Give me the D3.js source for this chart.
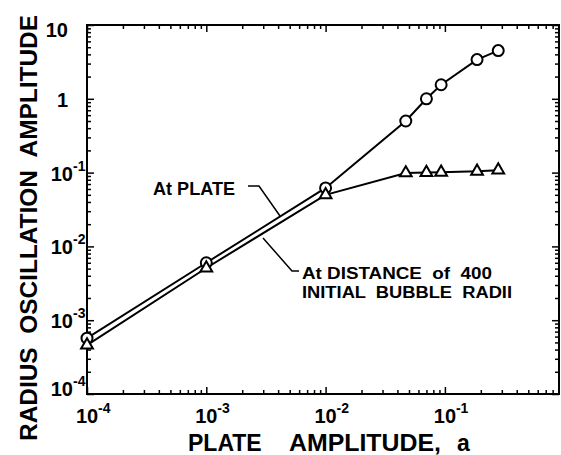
<!DOCTYPE html>
<html><head><meta charset="utf-8">
<script src="https://cdn.jsdelivr.net/npm/d3@7/dist/d3.min.js"></script>
<style>body{margin:0;background:#fff}svg{display:block}text{font-family:"Liberation Sans",Arial,sans-serif;font-weight:bold;fill:#000;white-space:pre}</style>
</head><body>
<script>
// Data
const plateAmp = [1e-4, 1e-3, 1e-2, 0.047, 0.07, 0.093, 0.186, 0.28];
const atPlate = [5.7e-4, 6.0e-3, 0.062, 0.50, 1.0, 1.55, 3.4, 4.5];
const atDistance = [4.6e-4, 5.1e-3, 0.050, 0.099, 0.100, 0.101, 0.104, 0.108];
const xTickExp = ["-4", "-3", "-2", "-1"];
const yTickLabels = [{v:10,t:"10"},{v:1,t:"1"},{v:0.1,e:"-1"},{v:0.01,e:"-2"},{v:0.001,e:"-3"},{v:1e-4,e:"-4"}];

const W = 561, H = 455;
const L = 87, R = 559, T = 25, B = 394;
const svg = d3.select("body").append("svg").attr("width", W).attr("height", H);

const x = d3.scaleLog().domain([1e-4, Math.pow(10, (R - L) / 119.3 - 4)]).range([L, R]);
const y = d3.scaleLog().domain([1e-4, 10]).range([B, T]);

function logTicks(lo, hi) {
  const out = [];
  for (let e = -5; e <= 1; e++) for (let m = 1; m <= 9; m++) {
    const v = m * Math.pow(10, e);
    if (v >= lo * 0.9999 && v <= hi * 1.0001) out.push({v, major: m === 1});
  }
  return out;
}
const xt = logTicks(x.domain()[0], x.domain()[1]);
const yt = logTicks(1e-4, 10);

svg.append("rect").attr("x", L).attr("y", T).attr("width", R - L).attr("height", B - T)
  .attr("fill", "none").attr("stroke", "#000").attr("stroke-width", 2);

function addAxis(axisGen, ticks, transform, major, minor) {
  [true, false].forEach(isMajor => {
    const vals = ticks.filter(d => d.major === isMajor).map(d => d.v);
    svg.append("g").attr("transform", transform)
      .call(axisGen.tickValues(vals).tickSize(isMajor ? major : minor).tickFormat(""))
      .call(s => { s.select(".domain").remove(); s.selectAll("line").attr("stroke", "#000").attr("stroke-width", 1.5); });
  });
}
addAxis(d3.axisBottom(x), xt, `translate(0,${B})`, -7, -4);
addAxis(d3.axisTop(x), xt, `translate(0,${T})`, -7, -4);
addAxis(d3.axisLeft(y), yt, `translate(${L},0)`, -7, -4);
addAxis(d3.axisRight(y), yt, `translate(${R},0)`, -7, -4);

// X tick labels: "10" centred on tick, exponent to the right
xTickExp.forEach(e => {
  const px = x(Math.pow(10, +e));
  svg.append("text").attr("x", px).attr("y", B + 29).attr("text-anchor", "middle")
    .attr("font-size", 20).text("10");
  svg.append("text").attr("x", px + 11).attr("y", B + 19).attr("font-size", 14).text(e);
});

// Y tick labels
yTickLabels.forEach(d => {
  const off = d.v === 10 ? 12 : (d.v === 1e-4 ? 2 : 8);
  const py = y(d.v) + off;
  if (d.t) {
    svg.append("text").attr("x", 68).attr("y", py).attr("text-anchor", "end")
      .attr("font-size", 20).text(d.t);
  } else {
    svg.append("text").attr("x", 73).attr("y", py).attr("text-anchor", "end")
      .attr("font-size", 20).text("10");
    svg.append("text").attr("x", 73).attr("y", py - 10).attr("font-size", 14).text(d.e);
  }
});

// Axis titles
const xt1 = svg.append("text").attr("y", 451).attr("font-size", 23);
xt1.append("tspan").attr("x", 188).text("PLATE");
xt1.append("tspan").attr("x", 289).attr("textLength", 152).attr("lengthAdjust", "spacingAndGlyphs").text("AMPLITUDE,");
xt1.append("tspan").attr("x", 457).text("a");
svg.append("text").attr("transform", "translate(37,441) rotate(-90)")
  .attr("font-size", 24).attr("textLength", 426).attr("lengthAdjust", "spacingAndGlyphs")
  .text("RADIUS  OSCILLATION  AMPLITUDE");

// Lines
const line = d3.line().x(d => x(d[0])).y(d => y(d[1]));
const p1 = plateAmp.map((v, i) => [v, atPlate[i]]);
const p2 = plateAmp.map((v, i) => [v, atDistance[i]]);
svg.append("path").attr("d", line(p1)).attr("fill", "none").attr("stroke", "#000").attr("stroke-width", 2);
svg.append("path").attr("d", line(p2)).attr("fill", "none").attr("stroke", "#000").attr("stroke-width", 2);

// Markers
svg.selectAll(".c").data(p1).join("circle")
  .attr("cx", d => x(d[0])).attr("cy", d => y(d[1])).attr("r", 5.5)
  .attr("fill", "#fff").attr("stroke", "#000").attr("stroke-width", 2);
const tri = d3.symbol().type(d3.symbolTriangle).size(60);
svg.selectAll(".t").data(p2).join("path")
  .attr("transform", d => `translate(${x(d[0])},${y(d[1])})`).attr("d", tri)
  .attr("fill", "#fff").attr("stroke", "#000").attr("stroke-width", 2);

// Annotations
svg.append("text").attr("x", 153).attr("y", 195).attr("font-size", 17.5)
  .attr("textLength", 82).attr("lengthAdjust", "spacingAndGlyphs").text("At PLATE");
svg.append("path").attr("d", "M248,186 L259,186 L280,216").attr("fill", "none").attr("stroke", "#000").attr("stroke-width", 1.5);
svg.append("text").attr("x", 302).attr("y", 279).attr("font-size", 16)
  .attr("textLength", 190).attr("lengthAdjust", "spacingAndGlyphs").text("At DISTANCE  of  400");
svg.append("text").attr("x", 302).attr("y", 298).attr("font-size", 16)
  .attr("textLength", 210).attr("lengthAdjust", "spacingAndGlyphs").text("INITIAL  BUBBLE  RADII");
svg.append("path").attr("d", "M263,238 L292,271 L299,271").attr("fill", "none").attr("stroke", "#000").attr("stroke-width", 1.5);
</script>
</body></html>
